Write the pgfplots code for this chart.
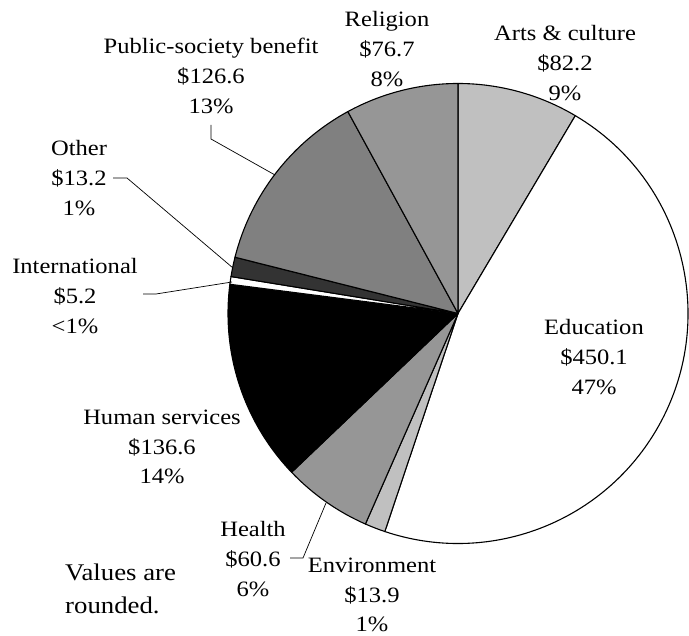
\documentclass[border=0pt]{standalone}
\usepackage{pgfplots}
\pgfplotsset{compat=1.18}
\usepackage{pgfplotstable}
\usepackage{fontspec}
\setmainfont[FakeStretch=1.12]{Liberation Serif}

\definecolor{lgray}{HTML}{C0C0C0}
\definecolor{mgray}{HTML}{969696}
\definecolor{pgray}{HTML}{808080}
\definecolor{dgray}{HTML}{333333}

% slices clockwise from 12 o'clock, $ billions
\pgfplotstableread{
value color
82.2  lgray
450.1 white
13.9  lgray
60.6  mgray
136.6 black
5.2   white
13.2  dgray
126.6 pgray
76.7  mgray
}\pietable

\tikzset{lab/.style={font=\fontsize{22}{30}\selectfont, align=center, inner sep=0pt}}

\begin{document}
\begin{tikzpicture}
\pgfplotstablegetrowsof{\pietable}
\pgfmathtruncatemacro\nrows{\pgfplotsretval-1}
\begin{axis}[
  x=1bp, y=1bp,
  xmin=0, xmax=689, ymin=0, ymax=636,
  hide axis, clip=false,
]
\coordinate (bl) at (rel axis cs:0,0);
\coordinate (tr) at (rel axis cs:1,1);
% total
\def\tot{0}
\pgfplotsforeachungrouped \i in {0,...,\nrows}{%
  \pgfplotstablegetelem{\i}{value}\of\pietable
  \pgfmathsetmacro\tot{\tot+\pgfplotsretval}}
% wedges
\def\cum{0}
\pgfplotsforeachungrouped \i in {0,...,\nrows}{%
  \pgfplotstablegetelem{\i}{value}\of\pietable \let\v\pgfplotsretval
  \pgfplotstablegetelem{\i}{color}\of\pietable \let\c\pgfplotsretval
  \pgfmathsetmacro\a{90-\cum/\tot*360}
  \pgfmathsetmacro\cum{\cum+\v}
  \pgfmathsetmacro\b{90-\cum/\tot*360}
  \edef\temp{\noexpand\filldraw[fill=\c, draw=black, line width=1.1bp, line join=round]
    (axis cs:458,322.5) -- ++(\a:230bp) arc[start angle=\a, end angle=\b, radius=230bp] -- cycle;}
  \temp}

% labels
\node[lab] at (axis cs:387,587) {Religion\\\$76.7\\8\%};
\node[lab] at (axis cs:565,573) {Arts \& culture\\\$82.2\\9\%};
\node[lab] at (axis cs:211,560) {Public-society benefit\\\$126.6\\13\%};
\node[lab] at (axis cs:79,458) {Other\\\$13.2\\1\%};
\node[lab] at (axis cs:75,340) {International\\\$5.2\\<1\%};
\node[lab] at (axis cs:594,279) {Education\\\$450.1\\47\%};
\node[lab] at (axis cs:162,189) {Human services\\\$136.6\\14\%};
\node[lab] at (axis cs:253,77) {Health\\\$60.6\\6\%};
\node[lab] at (axis cs:372,41) {Environment\\\$13.9\\1\%};
\node[lab, anchor=west, align=left, font=\fontsize{24}{33}\selectfont] at (axis cs:65,47.5) {Values are\\rounded.};

% leader lines
\draw[line width=0.7bp] (axis cs:211,511) -- (axis cs:211,497) -- (axis cs:275,461);
\draw[line width=0.7bp] (axis cs:113,458) -- (axis cs:127,458) -- (axis cs:233,368);
\draw[line width=0.7bp] (axis cs:143,342) -- (axis cs:156,342) -- (axis cs:232,354);
\draw[line width=0.7bp] (axis cs:290,78) -- (axis cs:303,78) -- (axis cs:326,133);
\end{axis}
\pgfresetboundingbox
\useasboundingbox (bl) rectangle (tr);
\end{tikzpicture}
\end{document}
